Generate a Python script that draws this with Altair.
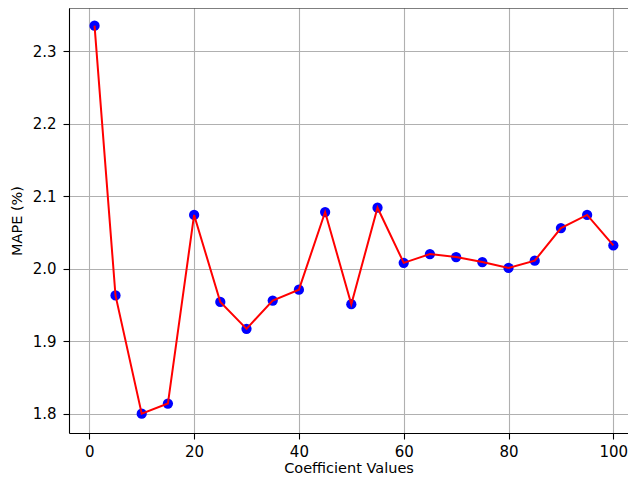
import altair as alt
import pandas as pd

coef = [1, 5, 10, 15, 20, 25, 30, 35, 40, 45, 50, 55, 60, 65, 70, 75, 80, 85, 90, 95, 100]
mape = [2.335, 1.963, 1.800, 1.814, 2.074, 1.954, 1.917, 1.956, 1.971, 2.078, 1.951,
        2.084, 2.008, 2.020, 2.016, 2.009, 2.001, 2.011, 2.056, 2.074, 2.032]

x_ticks = [0, 20, 40, 60, 80, 100]
y_ticks = [1.8, 1.9, 2.0, 2.1, 2.2, 2.3]

df = pd.DataFrame({"coef": coef, "mape": mape})

W, H = 559, 425

xscale = alt.Scale(domain=[-3.874, 102.80], nice=False, zero=False)
yscale = alt.Scale(domain=[1.7734, 2.3593], nice=False, zero=False)

xaxis = alt.Axis(values=x_ticks, format="d", title="Coefficient Values",
                 tickSize=6, labelPadding=5, titleY=39, titleBaseline="alphabetic")
yaxis = alt.Axis(values=y_ticks, format=".1f", title="MAPE (%)",
                 tickSize=6, labelPadding=7, titleX=-52, titleBaseline="middle")

base = alt.Chart(df)

points = base.mark_circle(color="#0000ff", opacity=1, size=105).encode(
    x=alt.X("coef:Q", scale=xscale, axis=xaxis),
    y=alt.Y("mape:Q", scale=yscale, axis=yaxis),
)

line = base.mark_line(color="#ff0000", strokeWidth=2).encode(
    x=alt.X("coef:Q", scale=xscale),
    y=alt.Y("mape:Q", scale=yscale),
)

top_spine = alt.Chart(pd.DataFrame({"k": [0]})).mark_rule(
    color="#000000", strokeWidth=1.1
).encode(x=alt.value(0), x2=alt.value(W), y=alt.value(0))

chart = alt.layer(points, line, top_spine).properties(
    width=W,
    height=H,
    background="#ffffff",
    autosize=alt.AutoSizeParams(type="none"),
    padding={"left": 61, "top": 0, "right": 0, "bottom": 42},
).configure_view(
    stroke="transparent"
).configure_axis(
    grid=True,
    gridColor="#b0b0b0",
    gridWidth=1.1,
    domainColor="#000000",
    domainWidth=1.1,
    tickColor="#000000",
    tickWidth=1.1,
    labelFont="DejaVu Sans",
    labelFontSize=15,
    labelColor="#000000",
    titleFont="DejaVu Sans",
    titleFontSize=14.5,
    titleFontWeight="normal",
    titleColor="#000000",
)

chart.save("out.html", embed_options={"renderer": "svg", "actions": False})
